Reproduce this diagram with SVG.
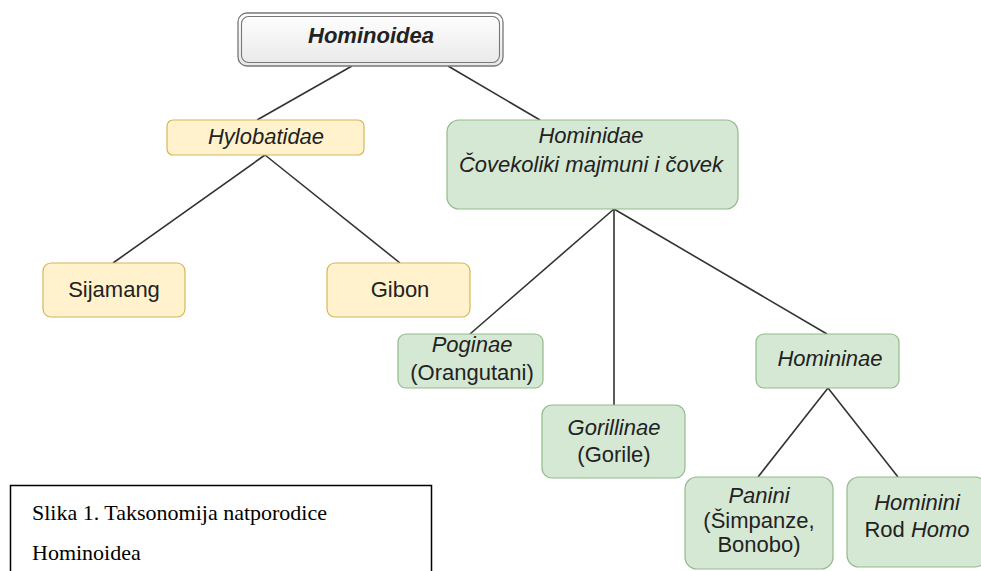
<svg xmlns="http://www.w3.org/2000/svg" width="981" height="571" viewBox="0 0 981 571">
<defs>
<linearGradient id="gGray" x1="0" y1="0" x2="0" y2="1">
<stop offset="0" stop-color="#ffffff"/>
<stop offset="1" stop-color="#e8e8e8"/>
</linearGradient>
<style>
.yel{fill:#fff2cc;stroke:#d6b656;stroke-width:1.2}
.grn{fill:#d5e8d4;stroke:#93b98a;stroke-width:1.2}
.t{font-family:"Liberation Sans",Arial,sans-serif;font-size:22px;fill:#222;text-anchor:middle}
.i{font-style:italic}
.b{font-weight:bold}
.con line{stroke:#333;stroke-width:1.6}
.cap{font-family:"Liberation Serif","Times New Roman",serif;font-size:22px;fill:#000}
</style>
</defs>
<rect width="981" height="571" fill="#ffffff"/>
<g class="con" id="connectors">
<line x1="352" y1="66" x2="257" y2="120"/>
<line x1="448" y1="66" x2="540" y2="120"/>
<line x1="265" y1="155" x2="113" y2="263"/>
<line x1="265" y1="155" x2="400" y2="263"/>
<line x1="614" y1="209" x2="470" y2="334"/>
<line x1="614" y1="209" x2="614" y2="405"/>
<line x1="614" y1="209" x2="827" y2="334"/>
<line x1="828" y1="388" x2="758" y2="477"/>
<line x1="828" y1="388" x2="898" y2="477"/>
</g>
<g id="hominoidea">
<rect x="238" y="13" width="265" height="53" rx="9" fill="url(#gGray)" stroke="#777" stroke-width="1.3"/>
<rect x="241.5" y="16.5" width="258" height="46" rx="7" fill="none" stroke="#777" stroke-width="1.1"/>
<text class="t i b" x="371" y="43" font-size="21">Hominoidea</text>
</g>
<g id="hylobatidae">
<rect class="yel" x="167" y="120" width="197" height="35" rx="6"/>
<text class="t i" x="266" y="144">Hylobatidae</text>
</g>
<g id="hominidae">
<rect class="grn" x="447" y="120" width="291" height="89" rx="12"/>
<text class="t i" x="591" y="143">Hominidae</text>
<text class="t i" x="591" y="172">Čovekoliki majmuni i čovek</text>
</g>
<g id="sijamang">
<rect class="yel" x="43" y="263" width="142" height="54" rx="8"/>
<text class="t" x="114" y="297">Sijamang</text>
</g>
<g id="gibon">
<rect class="yel" x="327" y="263" width="143" height="54" rx="8"/>
<text class="t" x="400" y="297">Gibon</text>
</g>
<g id="poginae">
<rect class="grn" x="398" y="334" width="145" height="54" rx="8"/>
<text class="t i" x="472" y="352">Poginae</text>
<text class="t" x="472" y="380">(Orangutani)</text>
</g>
<g id="gorillinae">
<rect class="grn" x="542" y="405" width="143" height="73" rx="10"/>
<text class="t i" x="614" y="435">Gorillinae</text>
<text class="t" x="614" y="462">(Gorile)</text>
</g>
<g id="homininae">
<rect class="grn" x="756" y="334" width="143" height="54" rx="8"/>
<text class="t i" x="830" y="366">Homininae</text>
</g>
<g id="panini">
<rect class="grn" x="685" y="477" width="148" height="92" rx="12"/>
<text class="t i" x="759" y="503">Panini</text>
<text class="t" x="759" y="528">(Šimpanze,</text>
<text class="t" x="759" y="552">Bonobo)</text>
</g>
<g id="hominini">
<rect class="grn" x="847" y="477" width="140" height="90" rx="12"/>
<text class="t i" x="917" y="510">Hominini</text>
<text class="t" x="917" y="537">Rod <tspan font-style="italic">Homo</tspan></text>
</g>
<g id="caption">
<rect x="10.5" y="485.5" width="421" height="100" fill="#ffffff" stroke="#000" stroke-width="1.5"/>
<text class="cap" x="32" y="520">Slika 1. Taksonomija natporodice</text>
<text class="cap" x="32" y="560">Hominoidea</text>
</g>
</svg>
